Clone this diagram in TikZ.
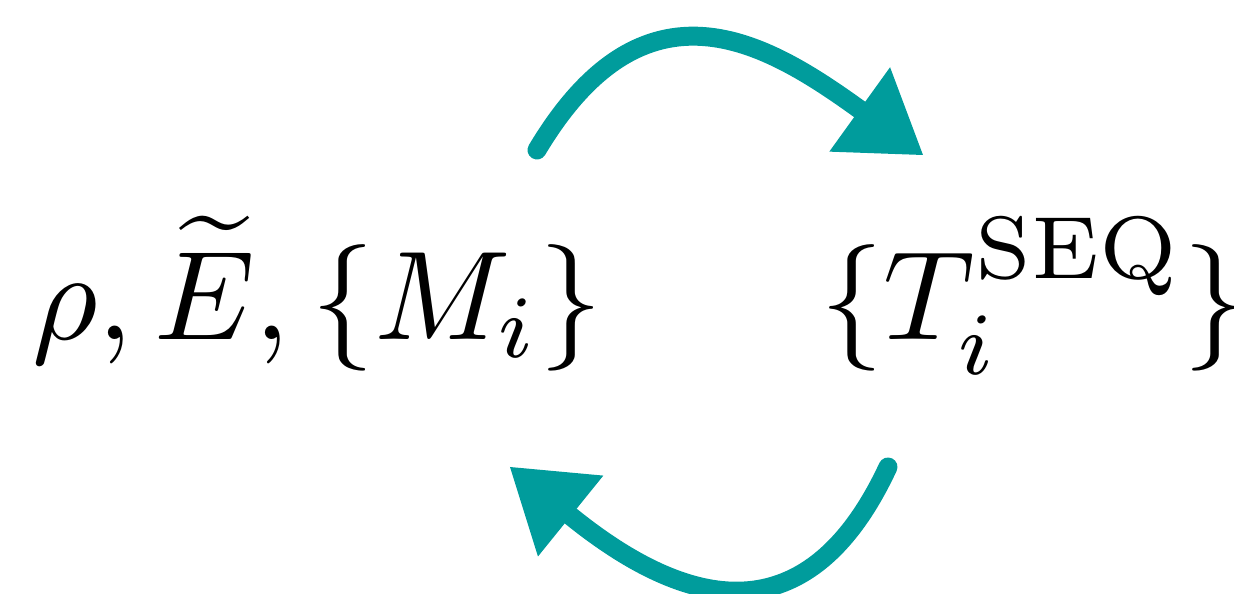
\documentclass[tikz,border=0pt]{standalone}
\usepackage{amsmath}
\usepackage{tikz}
\usepackage{xcolor}
\usetikzlibrary{arrows.meta,positioning}
\definecolor{Teal}{HTML}{009C9C}

\begin{document}
\begin{tikzpicture}[
  term/.style={inner sep=0pt,scale=3.6,transform shape},
  cycle/.style={draw=Teal,line width=0.19cm,line cap=round,
    -{Triangle[length=7.8mm,width=10.4mm,line width=0pt]}}
]
\useasboundingbox (0,0) rectangle (12.34,5.94);
\node[term,anchor=base west] (ops) at (0.30,2.55) {$\rho,\widetilde{E},\{M_i\}$};
\node[term,anchor=base west] (seq) at (8.18,2.55) {$\{T_i^{\mathrm{SEQ}}\}\mkern-2mu$};
\coordinate (topstart) at (5.37,4.44);
\coordinate (toptip) at (9.23,4.39);
\coordinate (botstart) at (8.88,1.27);
\coordinate (bottip) at (5.10,1.27);
\draw[cycle] (topstart) .. controls (6.45,6.25) and (7.66,5.52) .. (toptip);
\draw[cycle] (botstart) .. controls (8.04,-0.53) and (6.77,-0.08) .. (bottip);
\end{tikzpicture}
\end{document}
